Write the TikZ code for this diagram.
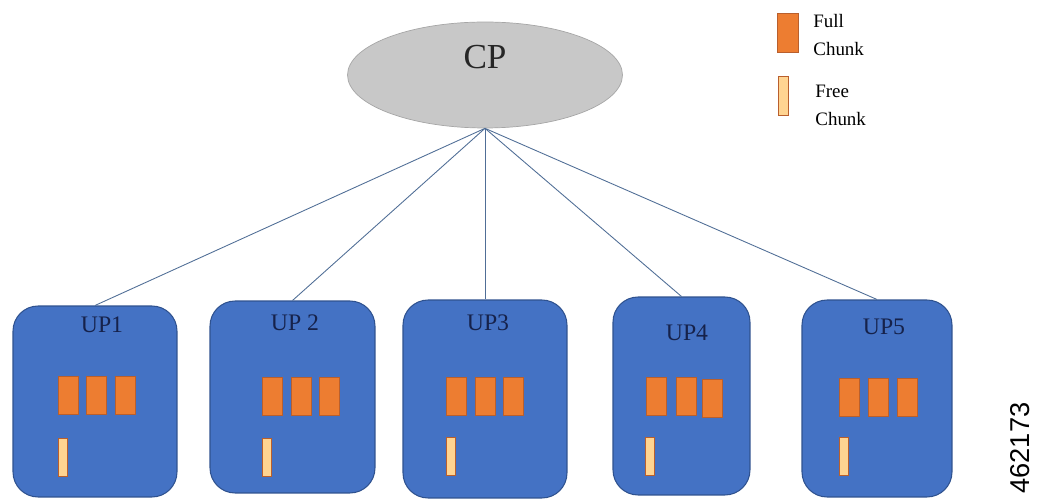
\documentclass[tikz,border=0pt]{standalone}
\usepackage{fontspec}
\setmainfont{Liberation Serif}
\setsansfont{Liberation Sans}
\usepackage{tikz}
\usetikzlibrary{shapes.geometric, positioning}
\definecolor{upblue}{RGB}{68,114,196}
\definecolor{upedge}{RGB}{47,82,143}
\definecolor{uptext}{RGB}{22,34,75}
\definecolor{chunkorange}{RGB}{237,125,49}
\definecolor{chunkedge}{RGB}{185,95,45}
\definecolor{freefill}{RGB}{255,212,145}
\definecolor{cpgray}{RGB}{200,200,200}
\definecolor{linkblue}{RGB}{80,110,150}

\begin{document}
\begin{tikzpicture}[x=0.02cm, y=-0.02cm,
    upbox/.style={rectangle, draw=upedge, fill=upblue, rounded corners=0.5cm, line width=0.6pt},
    uplabel/.style={font=\fontsize{13.5}{16}\selectfont, text=uptext, inner sep=0pt},
    fullchunk/.style={rectangle, draw=chunkedge, fill=chunkorange, line width=0.5pt,
                 minimum width=0.4cm, minimum height=0.76cm, inner sep=0pt},
    freechunk/.style={rectangle, draw=chunkedge, fill=freefill, line width=0.5pt,
                 minimum width=0.18cm, minimum height=0.76cm, inner sep=0pt},
    link/.style={draw=linkblue, line width=0.5pt},
    legendtext/.style={font=\fontsize{10.8}{16}\selectfont, align=left, anchor=west, inner sep=0pt}
]
    \useasboundingbox (0,0) rectangle (1058,499);

    % control plane
    \node[ellipse, draw=gray!70, fill=cpgray, minimum width=5.5cm, minimum height=2.12cm,
          label={[font=\fontsize{20}{24}\selectfont, text=black!85, yshift=0.36cm]center:CP}]
          (cp) at (485,75) {};

    % user planes
    \node[upbox, minimum width=3.28cm, minimum height=3.82cm] (up1) at (95,401.5) {};
    \node[upbox, minimum width=3.30cm, minimum height=3.84cm] (up2) at (292.5,397) {};
    \node[upbox, minimum width=3.28cm, minimum height=3.96cm] (up3) at (485,399) {};
    \node[upbox, minimum width=2.74cm, minimum height=3.96cm] (up4) at (681.5,396) {};
    \node[upbox, minimum width=3.00cm, minimum height=3.94cm] (up5) at (877,398.5) {};

    \node[uplabel] (lbl1) at (102,325) {UP1};
    \node[uplabel] (lbl2) at (295,323) {UP 2};
    \node[uplabel] (lbl3) at (488,323) {UP3};
    \node[uplabel] (lbl4) at (687,333) {UP4};
    \node[uplabel] (lbl5) at (884,327) {UP5};

    % chunks
    \node[fullchunk] (c11) at (68,395) {};
    \node[fullchunk] (c12) at (96.5,395) {};
    \node[fullchunk] (c13) at (125.5,395) {};
    \node[freechunk] (f1) at (62.5,457) {};

    \node[fullchunk] (c21) at (272.5,396) {};
    \node[fullchunk] (c22) at (301.5,396) {};
    \node[fullchunk] (c23) at (329,396) {};
    \node[freechunk] (f2) at (267,457) {};

    \node[fullchunk] (c31) at (456.5,396) {};
    \node[fullchunk] (c32) at (485,396) {};
    \node[fullchunk] (c33) at (513.5,396) {};
    \node[freechunk] (f3) at (451,456.5) {};

    \node[fullchunk] (c41) at (656,396) {};
    \node[fullchunk] (c42) at (686,396) {};
    \node[fullchunk] (c43) at (712.5,398) {};
    \node[freechunk] (f4) at (650,456.5) {};

    \node[fullchunk] (c51) at (849,397) {};
    \node[fullchunk] (c52) at (878,397) {};
    \node[fullchunk] (c53) at (907.5,397) {};
    \node[freechunk] (f5) at (844,456.5) {};

    % links
    \draw[link] (cp.south) -- (up1.north);
    \draw[link] (cp.south) -- (up2.north);
    \draw[link] (cp.south) -- (up3.north);
    \draw[link] (cp.south) -- (up4.north);
    \draw[link] (cp.south) -- (up5.north);

    % legend
    \node[fullchunk, minimum width=0.42cm, minimum height=0.78cm] (keyfull) at (787.5,32.5) {};
    \node[freechunk, minimum width=0.2cm, minimum height=0.78cm] (keyfree) at (783,95.5) {};
    \node[legendtext] (keyfulltxt) at (813,35) {Full\\Chunk};
    \node[legendtext] (keyfreetxt) at (815,105) {Free\\Chunk};

    \node[rotate=90, font=\sffamily\fontsize{15.5}{18}\selectfont] (figno) at (1020,448) {462173};
\end{tikzpicture}
\end{document}
